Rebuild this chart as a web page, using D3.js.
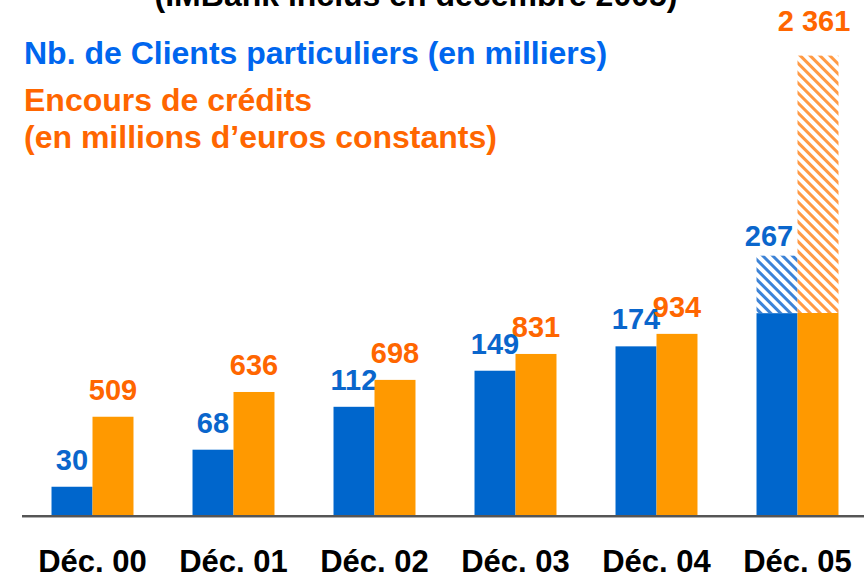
<!DOCTYPE html>
<html>
<head>
<meta charset="utf-8">
<script src="https://cdn.jsdelivr.net/npm/d3@7"></script>
<style>
	body { margin: 0; background: #fff; }
	svg { display: block; font-family: "Liberation Sans", Arial, sans-serif; font-weight: bold; }
</style>
</head>
<body>
<div id="graphic-wrapper"></div>
<script>
// data
const categories = ["Déc. 00", "Déc. 01", "Déc. 02", "Déc. 03", "Déc. 04", "Déc. 05"]
const clientsTotal = [30, 68, 112, 149, 174, 267]      // milliers
const clientsBase = [30, 68, 112, 149, 174, 208]       // hors IMBank (partie pleine)
const creditsTotal = [509, 636, 698, 831, 934, 2361]   // millions d'euros constants
const creditsBase = [509, 636, 698, 831, 934, 1041]
const titleText = "(IMBank inclus en décembre 2005)"
const legendClients = "Nb. de Clients particuliers (en milliers)"
const legendCredits = ["Encours de crédits", "(en millions d\u2019euros constants)"]

const BLUE = "#0066cc"
const ORANGE = "#ff9900"
const LABEL_BLUE = "#0a66cc"
const LABEL_ORANGE = "#ff6600"
const LEGEND_BLUE = "#0066ee"

const DIMENSIONS = { width: 864, height: 579, baseline: 516, axisLeft: 22 }

const fmt = d3.formatLocale({ decimal: ",", thousands: " ", grouping: [3], currency: ["", "€"] }).format(",d")

const svg = d3.select("#graphic-wrapper")
	.append("svg")
		.attr("width", DIMENSIONS.width)
		.attr("height", DIMENSIONS.height)

// hatch patterns for the part added in 2005
const defs = svg.append("defs")
const hatch = (id, color) => {
	const p = defs.append("pattern")
		.attr("id", id)
		.attr("patternUnits", "userSpaceOnUse")
		.attr("width", 7)
		.attr("height", 7)
		.attr("patternTransform", "rotate(-45)")
	p.append("rect").attr("width", 7).attr("height", 7).attr("fill", "#fff")
	p.append("rect").attr("width", 3).attr("height", 7).attr("fill", color)
}
hatch("hatch-blue", "#3d83d6")
hatch("hatch-orange", "#ff9a45")

const x0 = d3.scaleBand()
	.domain(categories)
	.range([DIMENSIONS.axisLeft, DIMENSIONS.width + 4])
	.paddingInner(0)

const x1 = d3.scaleBand()
	.domain(["clients", "credits"])
	.range([0, x0.bandwidth()])
	.paddingInner(0)
	.paddingOuter(0.72)

// two y scales sharing the same pixel range (1 client millier = 5 M€)
const yClients = d3.scaleLinear()
	.domain([0, 100])
	.range([DIMENSIONS.baseline, DIMENSIONS.baseline - 97.5])
const yCredits = d3.scaleLinear()
	.domain([0, 500])
	.range([DIMENSIONS.baseline, DIMENSIONS.baseline - 97.5])

// extGap: label gap above a hatched (extended) bar
const series = [
	{ key: "clients", total: clientsTotal, base: clientsBase, y: yClients, fill: BLUE, hatch: "url(#hatch-blue)", label: LABEL_BLUE, extGap: 10, extShift: -8 },
	{ key: "credits", total: creditsTotal, base: creditsBase, y: yCredits, fill: ORANGE, hatch: "url(#hatch-orange)", label: LABEL_ORANGE, extGap: 25, extShift: -4 },
]

const bars = svg.append("g")
series.forEach(s => {
	const rows = categories.map((c, i) => ({ cat: c, total: s.total[i], base: s.base[i] }))
	const g = bars.append("g").attr("class", "series-" + s.key)

	// hatched extension (only where total > base)
	g.selectAll(".ext")
		.data(rows.filter(d => d.total > d.base))
		.join("rect")
			.attr("class", "ext")
			.attr("x", d => x0(d.cat) + x1(s.key))
			.attr("width", x1.bandwidth())
			.attr("y", d => s.y(d.total))
			.attr("height", d => s.y(d.base) - s.y(d.total))
			.attr("fill", s.hatch)

	g.selectAll(".bar")
		.data(rows)
		.join("rect")
			.attr("class", "bar")
			.attr("x", d => x0(d.cat) + x1(s.key))
			.attr("width", x1.bandwidth())
			.attr("y", d => s.y(d.base))
			.attr("height", d => s.y(0) - s.y(d.base))
			.attr("fill", s.fill)

	g.selectAll(".val")
		.data(rows)
		.join("text")
			.attr("class", "val")
			.attr("x", d => x0(d.cat) + x1(s.key) + x1.bandwidth() / 2 + (d.total > d.base ? s.extShift : 0))
			.attr("y", d => s.y(d.total) - (d.total > d.base ? s.extGap : 17))
			.attr("text-anchor", "middle")
			.attr("font-size", 29)
			.attr("fill", s.label)
			.text(d => fmt(d.total))
})

// baseline
svg.append("line")
	.attr("x1", DIMENSIONS.axisLeft).attr("x2", DIMENSIONS.width)
	.attr("y1", DIMENSIONS.baseline + 1.5).attr("y2", DIMENSIONS.baseline + 1.5)
	.attr("stroke", "#b0b0b0").attr("stroke-width", 1)
svg.append("line")
	.attr("x1", DIMENSIONS.axisLeft).attr("x2", DIMENSIONS.width)
	.attr("y1", DIMENSIONS.baseline).attr("y2", DIMENSIONS.baseline)
	.attr("stroke", "#555").attr("stroke-width", 2)

// category labels
svg.append("g")
	.selectAll("text")
	.data(categories)
	.join("text")
		.attr("x", d => x0(d) + x0.bandwidth() / 2)
		.attr("y", 572)
		.attr("text-anchor", "middle")
		.attr("font-size", 31)
		.attr("fill", "#000")
		.text(d => d)

// title, cut off by the top edge as on the slide
svg.append("text")
	.attr("x", 416)
	.attr("y", 6)
	.attr("text-anchor", "middle")
	.attr("font-size", 32)
	.attr("fill", "#000")
	.text(titleText)

// legend
svg.append("text")
	.attr("x", 24)
	.attr("y", 64)
	.attr("font-size", 32)
	.attr("fill", LEGEND_BLUE)
	.text(legendClients)

svg.append("g")
	.selectAll("text")
	.data(legendCredits)
	.join("text")
		.attr("x", 24)
		.attr("y", (d, i) => 111 + i * 37)
		.attr("font-size", 32)
		.attr("fill", LABEL_ORANGE)
		.text(d => d)
</script>
</body>
</html>
